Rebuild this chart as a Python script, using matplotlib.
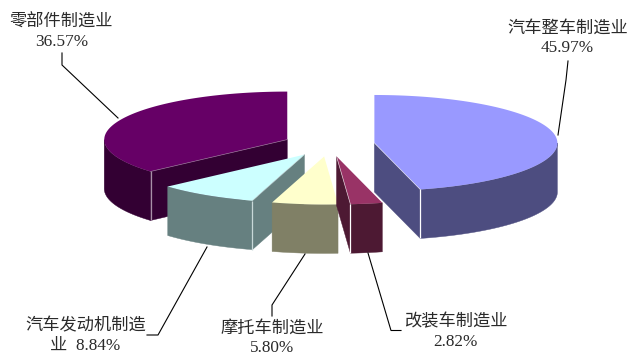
import numpy as np
import matplotlib
matplotlib.use("Agg")
import matplotlib.pyplot as plt
from matplotlib.patches import Polygon

# ---- data ----
categories = ["汽车整车制造业", "改装车制造业", "摩托车制造业", "汽车发动机制造业", "零部件制造业"]
shares = [45.97, 2.82, 5.80, 8.84, 36.57]
value_labels = ["45.97%", "2.82%", "5.80%", "8.84%", "36.57%"]

# ---- styles ----
top_colors = ["#9999FF", "#993366", "#FFFFCC", "#CCFFFF", "#660066"]
side_colors = ["#4D4D80", "#4D1933", "#808066", "#668080", "#330033"]
edge_colors = ["#FFFFFF", "#FFFFFF", "#D0D0C0", "#C8D8D8", "#A890A8"]
draw_order = [4, 0, 3, 2, 1]

CX, CY, RX, RY, DEPTH, EXPLODE = 329.0, 144.5, 183.0, 48.0, 49.0, 0.25

# ---- label layout (pixel positions) ----
label_texts = ["汽车整车制造业\n45.97%", "改装车制造业\n2.82%", "摩托车制造业\n5.80%",
               "汽车发动机制造\n业  8.84%", "零部件制造业\n36.57%"]
label_xy = [(567.5, 38.5), (455.5, 332), (272.5, 338.5), (85.5, 336), (61.5, 32)]
leader_paths = [
    [(558, 135), (566, 80), (568, 61)],
    [(368, 253), (391, 330.5), (401, 330.5)],
    [(305, 254), (272, 305), (272, 316)],
    [(207, 247), (158, 335), (147, 335)],
    [(118, 118), (62, 65), (62, 53)],
]

FONT = ["Liberation Serif", "Noto Sans CJK SC"]

fig = plt.figure(figsize=(6.42, 3.58), dpi=100, facecolor="white")
ax = fig.add_axes([0, 0, 1, 1])
ax.set_xlim(0, 642)
ax.set_ylim(358, 0)
ax.axis("off")

ends = np.cumsum(shares) / np.sum(shares) * 2 * np.pi
starts = np.concatenate([[0.0], ends[:-1]])


def rim(apex, theta):
    return apex[0] + RX * np.sin(theta), apex[1] - RY * np.cos(theta)


def extrude(points):
    pts = list(points)
    return pts + [(x, y + DEPTH) for x, y in reversed(pts)]


for i in draw_order:
    s, e = starts[i], ends[i]
    mid = (s + e) / 2
    apex = (CX + EXPLODE * RX * np.sin(mid), CY - EXPLODE * RY * np.cos(mid))
    top_kw = dict(closed=True, fc=top_colors[i], ec="none", lw=0)
    side_kw = dict(closed=True, fc=side_colors[i], ec=side_colors[i], lw=0.3)

    # visible cut faces
    cut_angles = []
    if np.sin(s) < -1e-6:
        cut_angles.append(s)
    if np.sin(e) > 1e-6:
        cut_angles.append(e)
    for a in cut_angles:
        ax.add_patch(Polygon(extrude([apex, rim(apex, a)]), **side_kw))

    # outer wall on the near side
    lo, hi = max(s, np.pi / 2), min(e, 3 * np.pi / 2)
    if hi > lo:
        t = np.linspace(lo, hi, 80)
        ax.add_patch(Polygon(extrude([rim(apex, v) for v in t]), **side_kw))

    # top surface
    t = np.linspace(s, e, 200)
    ax.add_patch(Polygon([apex] + [rim(apex, v) for v in t], **top_kw))

    # light edges
    for a in cut_angles:
        rx, ry = rim(apex, a)
        ax.plot([rx, rx], [ry, ry + DEPTH], color=edge_colors[i], lw=0.9, solid_capstyle="butt")
        ax.plot([apex[0], rx], [apex[1], ry], color=edge_colors[i], lw=0.5, alpha=0.7)

# leaders and labels
for path in leader_paths:
    xs, ys = zip(*path)
    ax.plot(xs, ys, color="black", lw=0.8, solid_joinstyle="miter")

for txt, (x, y) in zip(label_texts, label_xy):
    ax.text(x, y, txt, ha="center", va="center", family=FONT, fontsize=12.4,
            color="#2A2A2A", linespacing=1.25)

fig.savefig("out.png", dpi=100, facecolor="white")
